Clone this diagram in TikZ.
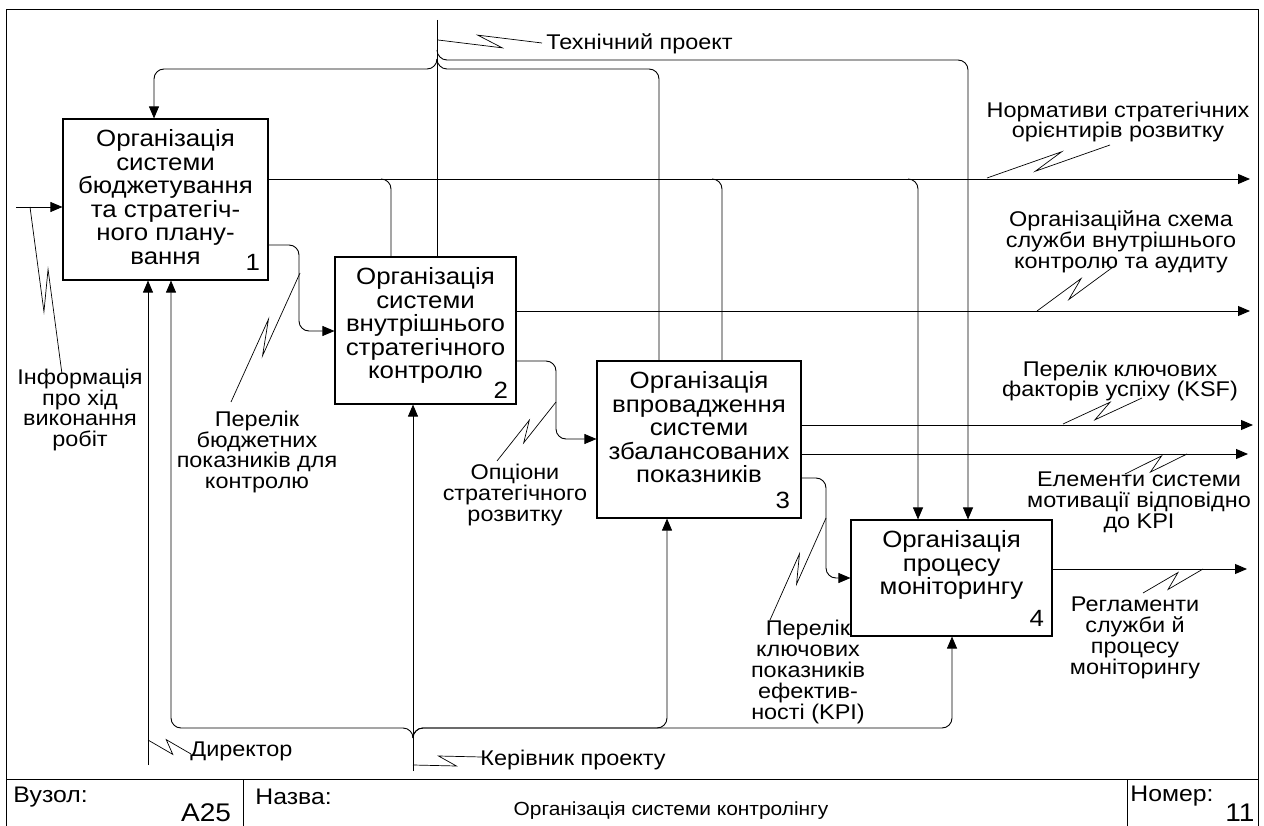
\documentclass[tikz,border=0pt]{standalone}
\usepackage{fontspec}
\setmainfont{Liberation Sans}[FakeStretch=1.1]
\usetikzlibrary{calc,arrows.meta}

% zigzag leader from an arrow (#1) to its label (#2); #3/#4 pick the sides of the kink
\newcommand\leader[4]{%
  \draw[lead] (#1) -- ($(#1)!0.62!(#2)!6pt!#3:(#2)$) -- ($(#1)!0.38!(#2)!6pt!#4:(#2)$) -- (#2);}

\begin{document}
\begin{tikzpicture}[x=1pt,y=-1pt,line width=0.9pt,
  conn/.style={draw,rounded corners=10pt},
  arr/.style={conn,-{Triangle[length=12pt,width=10pt]}},
  lead/.style={line width=0.7pt},
  func/.style={draw,line width=1.1pt,inner sep=0pt},
  boxtxt/.style={align=center,inner sep=0pt,font=\fontsize{23.5}{23.5}\selectfont},
  numtxt/.style={inner sep=0pt,font=\fontsize{23.5}{23.5}\selectfont},
  lbl/.style={align=center,inner sep=0pt,font=\fontsize{21.3}{20.8}\selectfont},
  foot/.style={inner sep=0pt,font=\fontsize{22.5}{23}\selectfont},
  footbig/.style={inner sep=0pt,font=\fontsize{25.5}{26}\selectfont}]
\useasboundingbox (0,0) rectangle (1264,826);

% frame and footer
\draw (6,826) -- (6,9) -- (1258,9) -- (1258,826);
\draw (6,779) -- (1258,779);
\draw (243,779) -- (243,826);
\draw (1127,779) -- (1127,826);
\node[foot,anchor=west] (fk1) at (13,797) {Вузол:};
\node[footbig] (fv1) at (206,813) {A25};
\node[foot,anchor=west] (fk2) at (255,797) {Назва:};
\node[foot,font=\fontsize{19}{20}\selectfont] (fv2) at (671,811) {Організація системи контролінгу};
\node[foot,anchor=west] (fk3) at (1130,796) {Номер:};
\node[footbig] (fv3) at (1240,813) {11};

% function boxes
\node[func,minimum width=205pt,minimum height=161pt] (b1) at (165.5,199.5) {};
\node[func,minimum width=181pt,minimum height=147pt] (b2) at (425.5,330.5) {};
\node[func,minimum width=204pt,minimum height=157pt] (b3) at (699,439.5) {};
\node[func,minimum width=201pt,minimum height=116pt] (b4) at (951.5,578) {};

\node[boxtxt,anchor=north] (t1) at ([yshift=-11pt]b1.north) {Організація\\системи\\бюджетування\\та стратегіч-\\ного плану-\\вання};
\node[boxtxt,anchor=north] (t2) at ([yshift=-11pt]b2.north) {Організація\\системи\\внутрішнього\\стратегічного\\контролю};
\node[boxtxt,anchor=north] (t3) at ([yshift=-11pt]b3.north) {Організація\\впровадження\\системи\\збалансованих\\показників};
\node[boxtxt,anchor=north] (t4) at ([yshift=-11pt]b4.north) {Організація\\процесу\\моніторингу};

\node[numtxt,anchor=base east] (n1) at ([xshift=-8pt,yshift=10pt]b1.south east) {1};
\node[numtxt,anchor=base east] (n2) at ([xshift=-8pt,yshift=6pt]b2.south east) {2};
\node[numtxt,anchor=base east] (n3) at ([xshift=-11pt,yshift=10pt]b3.south east) {3};
\node[numtxt,anchor=base east] (n4) at ([xshift=-8pt,yshift=10pt]b4.south east) {4};

% input
\coordinate (inS) at (16,207);
\draw[arr] (inS) -- (inS -| b1.west);

% control from above
\coordinate (tpS) at (437,20);
\draw[conn] (tpS) -- (tpS |- b2.north);
\draw[arr] (437,50) -- (437,60) -- (968,60) -- (968,0 |- b4.north);
\draw[arr] (437,59) -- (437,69) -- (154,69) -- (154,0 |- b1.north);
\draw[conn] (437,59) -- (437,69) -- (659,69) -- (659,0 |- b3.north);

% outputs of box 1
\coordinate (o1) at (1250,179);
\draw[arr] (b1.east |- o1) -- (o1);
\draw[conn] (381,179) -- (391,179) -- (391,0 |- b2.north);
\draw[conn] (712,179) -- (722,179) -- (722,0 |- b3.north);
\draw[arr] (908,179) -- (918,179) -- (918,0 |- b4.north);
\draw[arr] (b1.east |- 0,245) -- (299,245) -- (299,331) -- (b2.west |- 0,331);

% outputs of box 2
\coordinate (o2) at (1250,311);
\draw[arr] (b2.east |- o2) -- (o2);
\draw[arr] (b2.east |- 0,361) -- (556,361) -- (556,439) -- (b3.west |- 0,439);

% outputs of box 3
\coordinate (o3) at (1253,425);
\coordinate (o4) at (1248,454);
\draw[arr] (b3.east |- o3) -- (o3);
\draw[arr] (b3.east |- o4) -- (o4);
\draw[arr] (b3.east |- 0,478) -- (826,478) -- (826,578) -- (b4.west |- 0,578);

% output of box 4
\coordinate (o5) at (1247,569);
\draw[arr] (b4.east |- o5) -- (o5);

% mechanisms
\coordinate (dirS) at (148,765);
\draw[arr] (dirS) -- (dirS |- b1.south);
\coordinate (mgS) at (413,771);
\draw[arr] (mgS) -- (mgS |- b2.south);
\draw[arr] (413,738) -- (413,728) -- (171,728) -- (171,0 |- b1.south);
\draw[arr] (413,738) -- (413,728) -- (667,728) -- (667,0 |- b3.south);
\draw[arr] (413,738) -- (413,728) -- (952,728) -- (952,0 |- b4.south);

% arrow labels
\node[lbl] (lInf) at (80,410) {Інформація\\про хід\\виконання\\робіт};
\node[lbl] (lBud) at (257,452) {Перелік\\бюджетних\\показників для\\контролю};
\node[lbl] (lOpt) at (515,495) {Опціони\\стратегічного\\розвитку};
\node[lbl] (lKpi) at (808,672) {Перелік\\ключових\\показників\\ефектив-\\ності (KPI)};
\node[lbl] (lReg) at (1135,638) {Регламенти\\служби й\\процесу\\моніторингу};
\node[lbl] (lMot) at (1139,502) {Елементи системи\\мотивації відповідно\\до KPI};
\node[lbl] (lKsf) at (1120,381) {Перелік ключових\\факторів успіху (KSF)};
\node[lbl] (lOrg) at (1121,242) {Організаційна схема\\служби внутрішнього\\контролю та аудиту};
\node[lbl] (lNor) at (1118,122) {Нормативи стратегічних\\орієнтирів розвитку};
\node[lbl,anchor=west] (lTech) at (546,44) {Технічний проект};
\node[lbl,anchor=west] (lDir) at (190,751) {Директор};
\node[lbl,anchor=west] (lMgr) at (480,760) {Керівник проекту};

% leaders between arrows and labels
\coordinate (sInf) at (30,207);   \coordinate (eInf) at (62,374);
\coordinate (sBud) at (300,273);  \coordinate (eBud) at (231,402);
\coordinate (sOpt) at (556,402);  \coordinate (eOpt) at (497,461);
\coordinate (sKpi) at (826,518);  \coordinate (eKpi) at (770,620);
\coordinate (sReg) at (1203,569); \coordinate (eReg) at (1143,593);
\coordinate (sMot) at (1187,454); \coordinate (eMot) at (1125,474);
\coordinate (sKsf) at (1063,424); \coordinate (eKsf) at (1142,398);
\coordinate (sOrg) at (1037,311); \coordinate (eOrg) at (1113,267);
\coordinate (sNor) at (987,178);  \coordinate (eNor) at (1110,145);
\coordinate (sTech) at (438,40);  \coordinate (eTech) at (542,43);
\coordinate (sDir) at (148,740);  \coordinate (eDir) at (191,754);
\coordinate (sMgr) at (413,765);  \coordinate (eMgr) at (482,757);
\leader{sInf}{eInf}{-90}{90}
\leader{sBud}{eBud}{90}{-90}
\leader{sOpt}{eOpt}{90}{-90}
\leader{sKpi}{eKpi}{90}{-90}
\leader{sReg}{eReg}{90}{-90}
\leader{sMot}{eMot}{90}{-90}
\leader{sKsf}{eKsf}{90}{-90}
\leader{sOrg}{eOrg}{90}{-90}
\leader{sNor}{eNor}{90}{-90}
\leader{sTech}{eTech}{-90}{90}
\leader{sDir}{eDir}{-90}{90}
\leader{sMgr}{eMgr}{-90}{90}
\end{tikzpicture}
\end{document}
